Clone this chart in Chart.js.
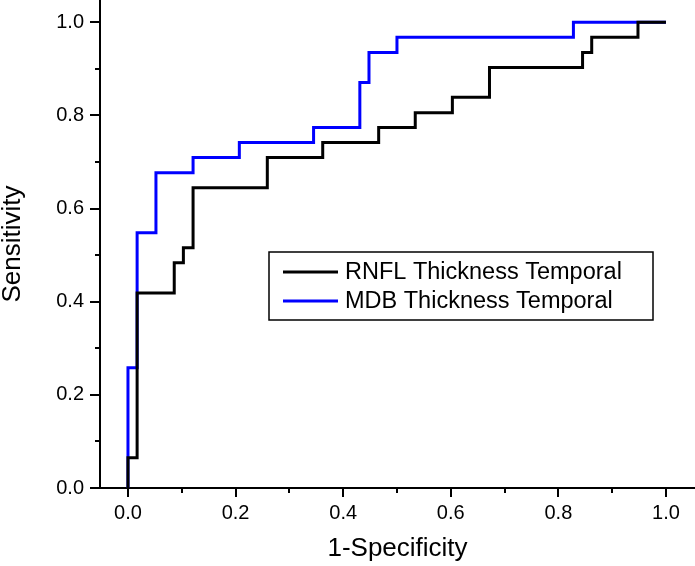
<!DOCTYPE html>
<html>
<head>
<meta charset="utf-8">
<script src="https://cdn.jsdelivr.net/npm/chart.js@4.4.1/dist/chart.umd.min.js"></script>
<style>
  html, body { margin: 0; padding: 0; background: #fff; }
  #wrap { width: 695px; height: 566px; }
</style>
</head>
<body>
<div id="wrap"><canvas id="rocChart" width="695" height="566"></canvas></div>
<script>
// ROC points (1-specificity, sensitivity)
var seriesNames = ["RNFL Thickness Temporal", "MDB Thickness Temporal"];
var seriesColors = ["#000000", "#0000ff"];

var rnflFpr = [0, 0, 0.017, 0.086, 0.103, 0.121, 0.259, 0.362, 0.466, 0.534, 0.603, 0.672, 0.845, 0.862, 0.948, 1.0];
var rnflTpr = [0, 0.065, 0.419, 0.484, 0.516, 0.645, 0.710, 0.742, 0.774, 0.806, 0.839, 0.903, 0.935, 0.968, 1.0, 1.0];

var mdbFpr = [0, 0, 0.017, 0.052, 0.121, 0.207, 0.345, 0.431, 0.448, 0.5, 0.828, 1.0];
var mdbTpr = [0, 0.258, 0.548, 0.677, 0.710, 0.742, 0.774, 0.871, 0.935, 0.968, 1.0, 1.0];

var xTicks = [0, 0.1, 0.2, 0.3, 0.4, 0.5, 0.6, 0.7, 0.8, 0.9, 1.0];
var yTicks = [0, 0.1, 0.2, 0.3, 0.4, 0.5, 0.6, 0.7, 0.8, 0.9, 1.0];

var FONT = "'Liberation Sans', Arial, sans-serif";

function toPoints(xs, ys) {
  return xs.map(function (x, i) { return { x: x, y: ys[i] }; });
}

function tickLabel(value) {
  // only every other tick (0.0, 0.2, ...) carries a label
  return Math.round(value * 10) % 2 === 0 ? value.toFixed(1) : "";
}

// outward ticks, long for labelled values and short for the ones between
var tickMarks = {
  id: "tickMarks",
  afterDraw: function (chart) {
    var c = chart.ctx;
    var xs = chart.scales.x, ys = chart.scales.y;
    var area = chart.chartArea;
    c.save();
    c.strokeStyle = "#000";
    c.lineWidth = 2;
    xTicks.forEach(function (v, i) {
      var px = Math.round(xs.getPixelForValue(v));
      var len = i % 2 === 0 ? 9 : 5;
      c.beginPath();
      c.moveTo(px, area.bottom);
      c.lineTo(px, area.bottom + len);
      c.stroke();
    });
    yTicks.forEach(function (v, i) {
      var py = Math.round(ys.getPixelForValue(v));
      var len = i % 2 === 0 ? 10 : 5;
      c.beginPath();
      c.moveTo(area.left, py);
      c.lineTo(area.left - len, py);
      c.stroke();
    });
    c.restore();
  }
};

// boxed legend inside the plot, like the original
var boxLegend = {
  id: "boxLegend",
  afterDraw: function (chart) {
    var c = chart.ctx;
    var bx = 269, by = 252, bw = 384, bh = 68;
    c.save();
    c.strokeStyle = "#000";
    c.lineWidth = 1.5;
    c.strokeRect(bx, by, bw, bh);
    c.font = "23.5px " + FONT;
    c.textBaseline = "middle";
    c.fillStyle = "#000";
    chart.data.datasets.forEach(function (ds, i) {
      var ry = by + 20 + i * 29;
      c.strokeStyle = ds.borderColor;
      c.lineWidth = 3;
      c.beginPath();
      c.moveTo(bx + 14, ry);
      c.lineTo(bx + 69, ry);
      c.stroke();
      c.fillText(ds.label, bx + 76, ry + 1);
    });
    c.restore();
  }
};

function noEdgePadding(s) {
  s.paddingTop = 0;
  s.paddingBottom = 0;
  s.paddingLeft = 0;
  s.paddingRight = 0;
}

var ctx = document.getElementById("rocChart").getContext("2d");

var rocChart = new Chart(ctx, {
  type: "scatter",
  data: {
    datasets: [
      {
        label: seriesNames[0],
        data: toPoints(rnflFpr, rnflTpr),
        showLine: true,
        stepped: "before",
        borderColor: seriesColors[0],
        borderWidth: 3,
        pointRadius: 0,
        fill: false
      },
      {
        label: seriesNames[1],
        data: toPoints(mdbFpr, mdbTpr),
        showLine: true,
        stepped: "before",
        borderColor: seriesColors[1],
        borderWidth: 3,
        pointRadius: 0,
        fill: false
      }
    ]
  },
  options: {
    responsive: false,
    animation: false,
    layout: { padding: 0 },
    plugins: {
      legend: { display: false },
      tooltip: { enabled: false }
    },
    scales: {
      x: {
        type: "linear",
        min: -0.052,
        max: 1.054,
        afterBuildTicks: function (s) {
          s.ticks = xTicks.map(function (v) { return { value: v }; });
        },
        afterFit: function (s) { s.height = 78; noEdgePadding(s); },
        ticks: {
          callback: tickLabel,
          autoSkip: false,
          maxRotation: 0,
          color: "#000",
          padding: 3,
          font: { family: FONT, size: 20 }
        },
        grid: { drawOnChartArea: false, tickLength: 10, tickColor: "rgba(0,0,0,0)" },
        border: { color: "#000", width: 2 },
        title: {
          display: true,
          text: "1-Specificity",
          color: "#000",
          font: { family: FONT, size: 26 },
          padding: { top: 0, bottom: 2 }
        }
      },
      y: {
        type: "linear",
        min: 0,
        max: 1.048,
        afterBuildTicks: function (s) {
          s.ticks = yTicks.map(function (v) { return { value: v }; });
        },
        afterFit: function (s) { s.width = 100; noEdgePadding(s); },
        ticks: {
          callback: tickLabel,
          autoSkip: false,
          color: "#000",
          padding: 6,
          font: { family: FONT, size: 20 }
        },
        grid: { drawOnChartArea: false, tickLength: 10, tickColor: "rgba(0,0,0,0)" },
        border: { color: "#000", width: 2 },
        title: {
          display: true,
          text: "Sensitivity",
          color: "#000",
          font: { family: FONT, size: 26, lineHeight: 1.0 },
          padding: { top: 0, bottom: 0 }
        }
      }
    }
  },
  plugins: [tickMarks, boxLegend]
});
</script>
</body>
</html>
